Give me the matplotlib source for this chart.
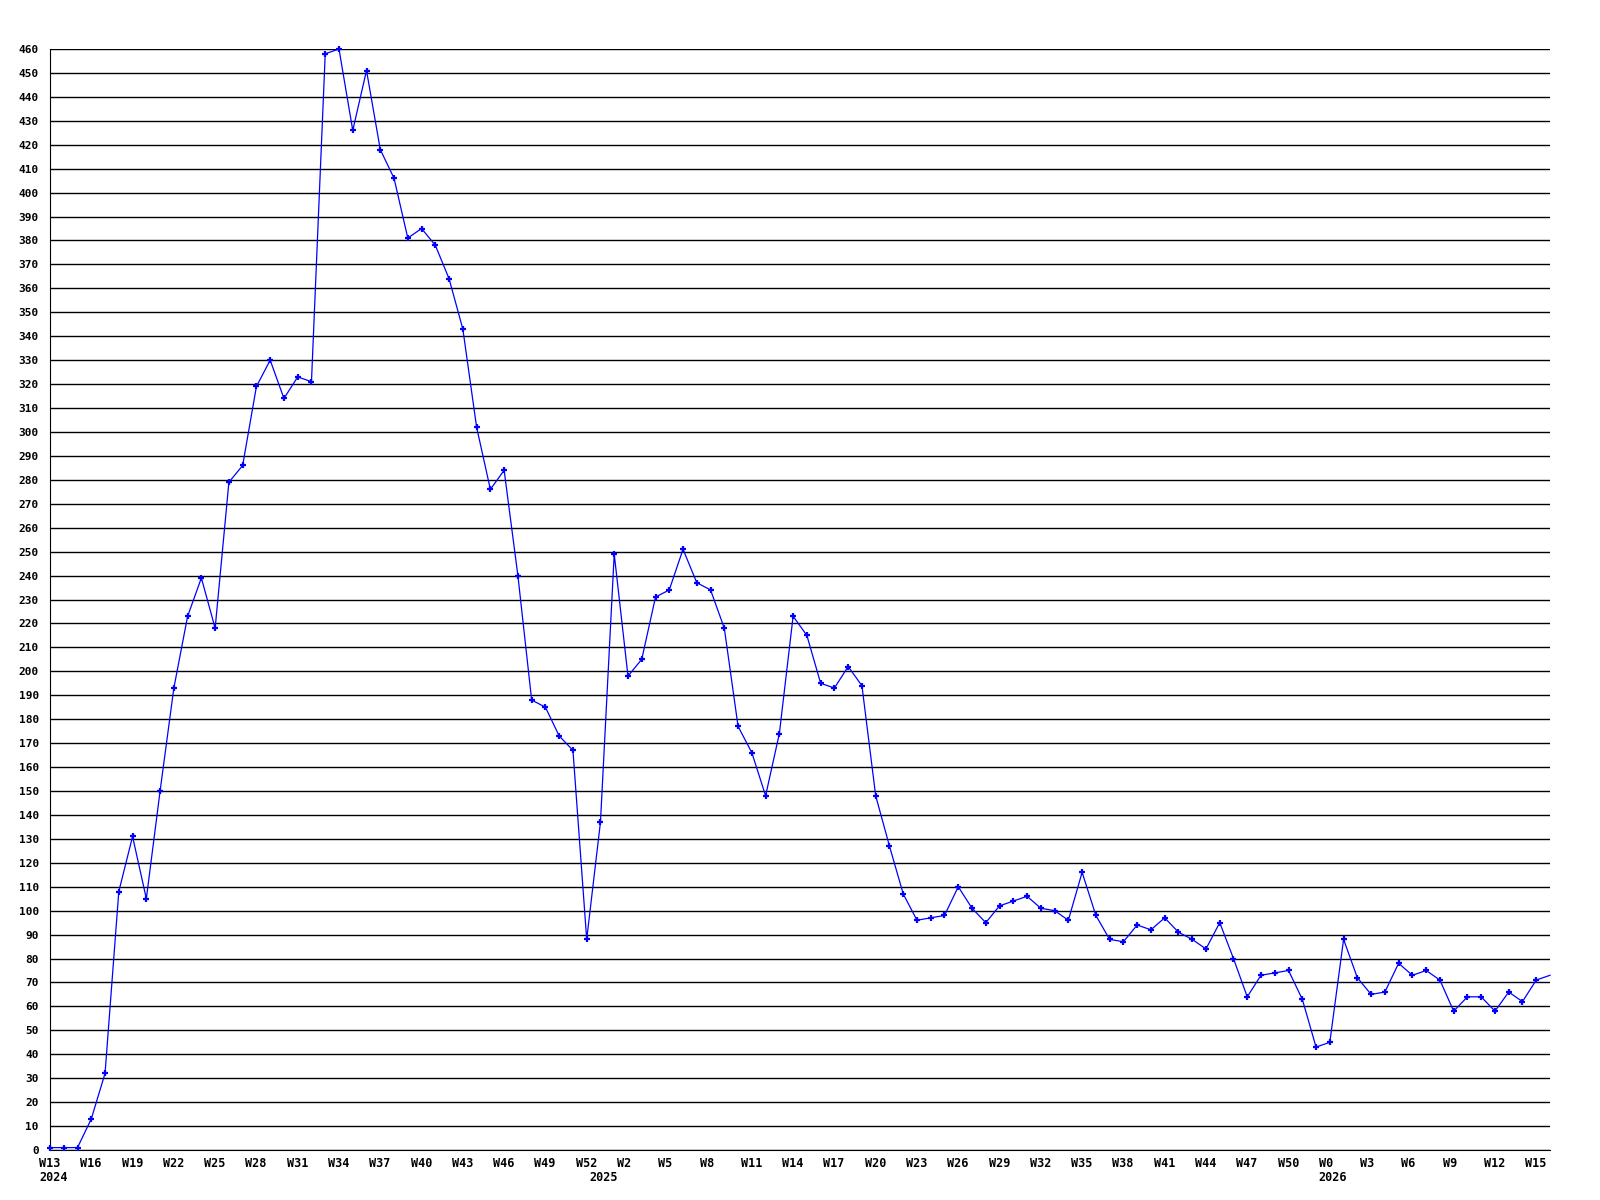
import matplotlib
matplotlib.use("Agg")
import matplotlib.pyplot as plt
from matplotlib.transforms import ScaledTranslation

# week labels (year, week number) for each point
year = [2024] * 40 + [2025] * 53 + [2026] * 17
week = list(range(13, 53)) + list(range(0, 53)) + list(range(0, 17))

values = [1, 1, 1, 13, 32, 108, 131, 105, 150, 193,
          223, 239, 218, 279, 286, 319, 330, 314, 323, 321,
          458, 460, 426, 451, 418, 406, 381, 385, 378, 364,
          343, 302, 276, 284, 240, 188, 185, 173, 167, 88,
          137, 249, 198, 205, 231, 234, 251, 237, 234, 218,
          177, 166, 148, 174, 223, 215, 195, 193, 202, 194,
          148, 127, 107, 96, 97, 98, 110, 101, 95, 102,
          104, 106, 101, 100, 96, 116, 98, 88, 87, 94,
          92, 97, 91, 88, 84, 95, 80, 64, 73, 74,
          75, 63, 43, 45, 88, 72, 65, 66, 78, 73,
          75, 71, 58, 64, 64, 58, 66, 62, 71, 73]

x = list(range(len(values)))

fig = plt.figure(figsize=(16, 12), dpi=100)
ax = fig.add_axes([50 / 1600, 1 - 1150 / 1200, 1500 / 1600, 1101 / 1200])

ax.plot(x, values, color='#0000ff', lw=0.9, marker='+', ms=5, mew=1.6,
        markevery=list(range(len(values) - 1)), zorder=3, clip_on=False)

ax.set_xlim(0, len(values) - 1)
ax.set_ylim(0, 460)
ax.set_yticks(range(0, 461, 10))
ax.grid(axis='y', color='black', lw=1.0)
ax.set_axisbelow(True)

for s in ['top', 'right']:
    ax.spines[s].set_visible(False)
ax.spines['left'].set_color('black')
ax.spines['bottom'].set_color('black')

ax.tick_params(axis='y', length=0, pad=8, labelsize=8)
for lab in ax.get_yticklabels():
    lab.set_fontfamily('DejaVu Sans Mono')
    lab.set_fontweight('bold')

# week ticks every 3 points, year labels at the first week of each year
ax.xaxis.remove_overlapping_locs = False
xt = x[::3]
ax.set_xticks(xt, labels=['W%d' % week[i] for i in xt])
yt = [i for i in x if i == 0 or year[i] != year[i - 1]]
ax.set_xticks(yt, labels=[str(year[i]) for i in yt], minor=True)
ax.tick_params(axis='x', which='both', length=0, labelsize=8.5)
ax.tick_params(axis='x', which='major', pad=5)
ax.tick_params(axis='x', which='minor', pad=15)

shift = ScaledTranslation(-11 / 100, 0, fig.dpi_scale_trans)
for lab in ax.get_xticklabels() + ax.get_xticklabels(minor=True):
    lab.set_fontfamily('DejaVu Sans Mono')
    lab.set_fontweight('bold')
    lab.set_horizontalalignment('left')
    lab.set_transform(lab.get_transform() + shift)

fig.savefig('out.png', dpi=100, facecolor='white')
